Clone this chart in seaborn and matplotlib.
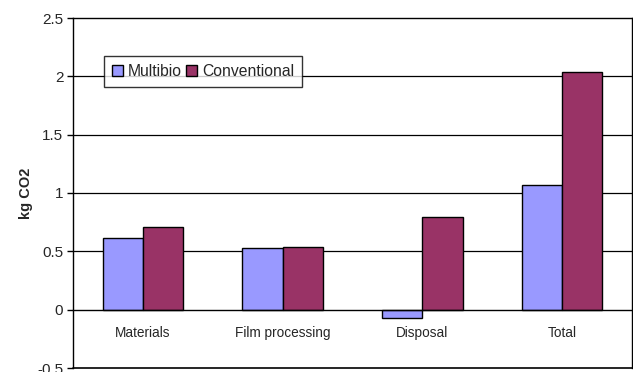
import matplotlib
matplotlib.use("Agg")
import matplotlib.pyplot as plt
import seaborn as sns
import pandas as pd

categories = ["Materials", "Film processing", "Disposal", "Total"]
multibio = [0.618, 0.527, -0.071, 1.068]
conventional = [0.712, 0.535, 0.792, 2.037]
series_names = ["Multibio", "Conventional"]
y_ticks = [-0.5, 0, 0.5, 1, 1.5, 2, 2.5]

df = pd.DataFrame({
    "category": categories * 2,
    "value": multibio + conventional,
    "series": [series_names[0]] * 4 + [series_names[1]] * 4,
})

sns.set_style("white")
plt.rcParams["font.family"] = ["Liberation Sans", "DejaVu Sans"]

fig = plt.figure(figsize=(6.33, 3.72), dpi=100)
ax = fig.add_axes([73 / 633, 1 - 368 / 372, 559 / 633, 350 / 372])

palette = {"Multibio": "#9999FF", "Conventional": "#993366"}
sns.barplot(data=df, x="category", y="value", hue="series", palette=palette,
            width=0.575, edgecolor="black", linewidth=1.0, saturation=1,
            ax=ax, zorder=3)

ax.set_ylim(-0.5, 2.5)
ax.set_xlim(-0.5, 3.5)
ax.set_yticks(y_ticks)
ax.set_yticklabels([f"{t:g}" for t in y_ticks], fontsize=11)
for y in [0.5, 1, 1.5, 2]:
    ax.axhline(y, color="black", linewidth=0.9, zorder=1)

# category axis sits at zero, with ticks at the group boundaries
ax.spines["bottom"].set_position(("data", 0))
ax.spines["bottom"].set_zorder(4)
ax.axhline(-0.5, color="black", linewidth=1.2, clip_on=False, zorder=4)
for s in ax.spines.values():
    s.set_color("black")
    s.set_linewidth(1.0)
ax.set_xticks(range(len(categories)))
ax.set_xticklabels(categories, fontsize=9.8)
ax.set_xticks([0.5, 1.5, 2.5], minor=True)
ax.tick_params(axis="x", which="major", length=0, pad=12)
ax.tick_params(axis="x", which="minor", length=4, width=1, direction="out",
               color="black")
ax.tick_params(axis="y", length=4, width=1, direction="out", color="black",
               left=True, pad=3)

ax.set_xlabel("")
ax.set_ylabel("kg CO2", fontsize=10.5, fontweight="bold", labelpad=3)

leg = ax.legend(loc="upper left", bbox_to_anchor=(31 / 559, 1 - 38 / 350),
                ncol=2, frameon=True, fancybox=False, fontsize=11.3,
                handlelength=0.7, handleheight=0.7, handletextpad=0.3,
                columnspacing=0.3, borderpad=0.5, borderaxespad=0)
leg.get_frame().set_edgecolor("black")
leg.get_frame().set_linewidth(1.0)
leg.set_zorder(5)

fig.savefig("out.png", dpi=100)
